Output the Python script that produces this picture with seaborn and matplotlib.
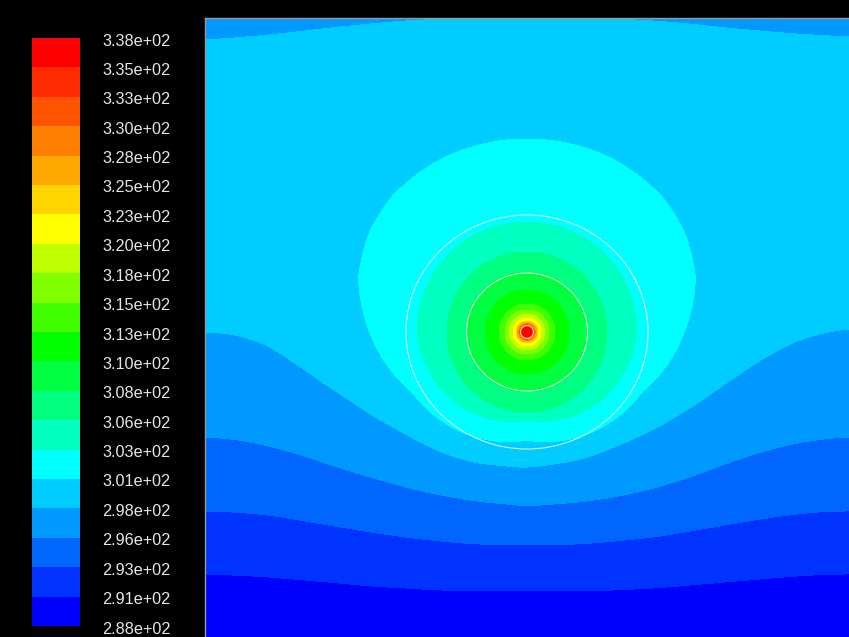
import numpy as np
import matplotlib
matplotlib.use("Agg")
import matplotlib.pyplot as plt
from matplotlib.patches import Ellipse
from matplotlib.transforms import ScaledTranslation
import seaborn as sns

# contour levels (K) and the labels on the legend bar
levels = [288.0, 290.5, 293.0, 295.5, 298.0, 300.5, 303.0, 305.5, 308.0, 310.5,
          313.0, 315.5, 318.0, 320.5, 323.0, 325.5, 328.0, 330.5, 333.0, 335.5, 338.0]
tick_labels = ["2.88e+02", "2.91e+02", "2.93e+02", "2.96e+02", "2.98e+02", "3.01e+02",
               "3.03e+02", "3.06e+02", "3.08e+02", "3.10e+02", "3.13e+02", "3.15e+02",
               "3.18e+02", "3.20e+02", "3.23e+02", "3.25e+02", "3.28e+02", "3.30e+02",
               "3.33e+02", "3.35e+02", "3.38e+02"]
band_colors = ["#0000FF", "#0033FF", "#0066FF", "#0099FF", "#00CCFF", "#00FFFF",
               "#00FFC0", "#00FF80", "#00FF40", "#00FF00", "#40FF00", "#80FF00",
               "#C0FF00", "#FFFF00", "#FFD500", "#FFAA00", "#FF8000", "#FF5500",
               "#FF2B00", "#FF0000"]

# background isotherms: y position of each band edge per column
col_x = [205, 235, 270, 305, 340, 370, 405, 440, 475, 527, 580, 615, 655, 690, 725, 760, 795, 830, 849]
top_298 = [40, 38, 35, 31, 27, 24, 21, 19, 18.5, 18.5, 18.5, 19, 21, 24, 28, 31, 34, 36, 37]
low_298 = [332, 334, 346, 370, 394, 414, 434, 452, 463, 468, 460, 447, 429, 408, 384, 360, 341, 331, 329]
low_2955 = [437, 439, 446, 456, 468, 477, 487, 495, 501, 506, 502, 497, 488, 477, 464, 452, 443, 438, 437]
low_293 = [511, 512, 515, 521, 527, 532, 537, 541, 544, 545, 544, 541, 537, 531, 525, 519, 514, 511, 511]
low_2905 = [574, 575, 577, 580, 583, 586, 588, 590, 591, 591, 591, 590, 588, 585, 582, 579, 576, 574, 574]

# hot spot: centre, outer cyan blob edge (300.5) and 303 edge by angle from "up"
hot_x, hot_y = 527, 332
blob_angle = [0, 25, 45, 58, 72, 93, 117, 139, 180]
blob_r = [193, 193, 191, 186, 177, 154, 130, 122, 108]
rim_angle = [0, 90, 135, 180]
rim_r = [110, 110, 100, 88]
# inner circular isotherms
ring_level = [305.5, 308.0, 310.5, 313.0, 315.5, 318.0, 320.5, 323.0, 325.5, 328.0, 330.5, 333.0, 335.5]
ring_r = [80, 60, 42, 28, 22, 17.5, 14, 11, 9.5, 8.2, 7.2, 6.2, 5.0]


def edge_curve(xs, pts, win=31):
    # isotherm position per column, smoothed so the read points don't leave kinks
    y = np.interp(xs, col_x, pts)
    pad = np.pad(y, win // 2, mode="edge")
    return np.convolve(pad, np.ones(win) / win, mode="valid")


def background(xs, ys):
    curves = [edge_curve(xs, c) for c in (top_298, low_298, low_2955, low_293, low_2905)]
    ts = [297.6, 298.0, 299.6, 298.0, 295.5, 293.0, 290.5, 289.0]
    B = np.empty((len(ys), len(xs)))
    for j in range(len(xs)):
        knots = [18, curves[0][j], 150, curves[1][j], curves[2][j], curves[3][j], curves[4][j], 660]
        B[:, j] = np.interp(ys, knots, ts)
    return B


def hot_field(X, Y):
    dx = X - hot_x
    dy = Y - hot_y
    r = np.hypot(dx, dy)
    phi = np.degrees(np.arctan2(np.abs(dx), -dy))
    radii = [np.interp(phi, blob_angle, blob_r), np.interp(phi, rim_angle, rim_r)]
    radii += [np.full_like(r, v) for v in ring_r]
    lev = [300.5, 303.0] + ring_level
    # falls off fast outside the blob so the background bands take over
    H = 300.5 - 0.4 * (r - radii[0])
    for k in range(len(lev) - 1):
        inside = (r <= radii[k]) & (r > radii[k + 1])
        frac = (radii[k] - r) / (radii[k] - radii[k + 1])
        H[inside] = lev[k] + 2.5 * frac[inside]
    core = r <= ring_r[-1]
    H[core] = lev[-1] + 2.4 * (1 - r[core] / ring_r[-1])
    return H


def plot():
    sns.set_theme(style="dark", rc={"figure.facecolor": "black", "axes.facecolor": "black"})
    plt.rcParams["font.family"] = ["Liberation Sans", "DejaVu Sans"]
    palette = sns.color_palette(band_colors)

    xs = np.arange(205, 850, 1.0)
    ys = np.arange(18, 638, 1.0)
    X, Y = np.meshgrid(xs, ys)
    T = np.maximum(background(xs, ys), hot_field(X, Y))

    fig = plt.figure(figsize=(8.49, 6.37), dpi=100)
    ax = fig.add_axes([205 / 849, 0, 644 / 849, 619 / 637])
    cs = ax.contourf(X, Y, T, levels=levels, colors=palette)
    ax.set_xlim(205, 849)
    ax.set_ylim(637, 18)
    ax.set_xticks([])
    ax.set_yticks([])
    for side in ["right", "bottom"]:
        ax.spines[side].set_visible(False)
    for side in ["left", "top"]:
        ax.spines[side].set_color("#9a9a9a")
        ax.spines[side].set_linewidth(1.0)

    # white rings
    for w, h in [(242, 234), (121, 118), (13, 13)]:
        ax.add_patch(Ellipse((hot_x, hot_y), w, h, fill=False, ec="#f2f2f2", lw=0.8, alpha=0.85))

    cax = fig.add_axes([32 / 849, 11 / 637, 48 / 849, 588 / 637])
    cbar = fig.colorbar(cs, cax=cax, ticks=levels)
    cbar.ax.set_yticklabels(tick_labels)
    cbar.outline.set_visible(False)
    cbar.ax.tick_params(length=0, pad=16, labelsize=11.7, labelcolor="#e6e6e6")
    shift = ScaledTranslation(0, -0.015, fig.dpi_scale_trans)
    for lab in cbar.ax.get_yticklabels():
        lab.set_transform(lab.get_transform() + shift)

    fig.savefig("out.png", dpi=100, facecolor="black")


if __name__ == '__main__':
    plot()
